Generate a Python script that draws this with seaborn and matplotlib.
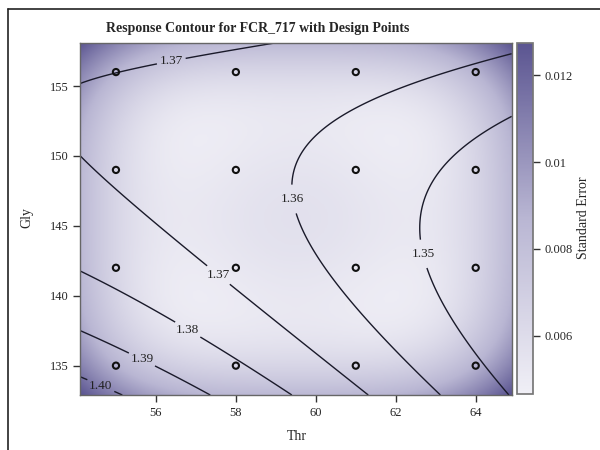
import numpy as np
import matplotlib
matplotlib.use("Agg")
import matplotlib.pyplot as plt
import seaborn as sns
import pandas as pd
from matplotlib.colors import LinearSegmentedColormap
from matplotlib.lines import Line2D

# design points (4 x 4 factorial)
thr_levels = [55, 58, 61, 64]
gly_levels = [135, 142, 149, 156]

# fitted quadratic model for FCR_717, centred at Thr=59.5, Gly=145.5
thr_center = 59.5
gly_center = 145.5
b0 = 1.360165
b_thr = -0.003007
b_gly = -0.0003937
b_thr2 = -0.0000837
b_gly2 = 0.0000905
b_thrgly = 0.0001651
root_mse = 0.0112

contour_levels = [1.35, 1.36, 1.37, 1.38, 1.39, 1.40]
label_spots = [(56.39, 156.7), (57.57, 141.5), (59.41, 146.9), (62.7, 143.0),
               (56.8, 137.6), (55.66, 135.5), (54.64, 133.7)]
se_range = [0.00466, 0.01274]
se_ticks = [0.006, 0.008, 0.01, 0.012]
se_ticklabels = ["0.006", "0.008", "0.01", "0.012"]

xlim = (54.1, 64.9)
ylim = (132.9, 158.1)

sns.set_theme(style="ticks")
plt.rcParams["font.family"] = ["Liberation Serif", "DejaVu Serif"]

design = pd.DataFrame([(t, g) for g in gly_levels for t in thr_levels], columns=["Thr", "Gly"])


def model_terms(thr, gly):
    p = np.asarray(thr, float) - thr_center
    q = np.asarray(gly, float) - gly_center
    return np.column_stack([np.ones_like(p), p, q, p * p, q * q, p * q])


coefs = np.array([b0, b_thr, b_gly, b_thr2, b_gly2, b_thrgly])
X = model_terms(design["Thr"], design["Gly"])
xtx_inv = np.linalg.inv(X.T @ X)

gx = np.linspace(xlim[0], xlim[1], 300)
gy = np.linspace(ylim[0], ylim[1], 300)
GX, GY = np.meshgrid(gx, gy)
F = model_terms(GX.ravel(), GY.ravel())
resp = (F @ coefs).reshape(GX.shape)
se = root_mse * np.sqrt(np.einsum("ij,jk,ik->i", F, xtx_inv, F)).reshape(GX.shape)

cmap = LinearSegmentedColormap.from_list("se", ["#f0eff6", "#b9b6d3", "#5b5591"])

fig = plt.figure(figsize=(6, 4.5), dpi=100)
ax = fig.add_axes([0.1333, 0.1222, 0.7195, 0.7829])
cax = fig.add_axes([0.8612, 0.1244, 0.0267, 0.7800])

im = ax.imshow(se, extent=[xlim[0], xlim[1], ylim[0], ylim[1]], origin="lower",
               aspect="auto", cmap=cmap, vmin=se_range[0], vmax=se_range[1],
               interpolation="bilinear")
cs = ax.contour(GX, GY, resp, levels=contour_levels, colors="#1a1a2a", linewidths=1.0)
labels = ax.clabel(cs, fmt="%.2f", fontsize=9.5, inline=True, inline_spacing=3,
                   manual=label_spots)
for t in labels:
    t.set_rotation(0)
    t.set_color("#222222")

sns.scatterplot(data=design, x="Thr", y="Gly", ax=ax, marker="o", s=20,
                facecolors="none", edgecolor="#111111", linewidth=1.5, zorder=5)

ax.set_xlim(*xlim)
ax.set_ylim(*ylim)
ax.set_xticks([56, 58, 60, 62, 64])
ax.set_yticks([135, 140, 145, 150, 155])
ax.set_xlabel("")
ax.set_ylabel("")
ax.tick_params(axis="both", labelsize=9, length=5, width=1, color="#333333", direction="out")
for s in ax.spines.values():
    s.set_visible(True)
    s.set_color("#666666")
    s.set_linewidth(1.0)

cb = fig.colorbar(im, cax=cax)
cb.set_ticks(se_ticks)
cb.set_ticklabels(se_ticklabels)
cb.ax.tick_params(labelsize=9, length=5, width=1, color="#333333")
cb.outline.set_edgecolor("#777777")

fig.text(0.43, 0.936, "Response Contour for FCR_717 with Design Points",
         ha="center", va="center", fontsize=10, fontweight="bold")
fig.text(0.4945, 0.029, "Thr", ha="center", va="center", fontsize=10)
fig.text(0.0445, 0.516, "Gly", ha="center", va="center", fontsize=10, rotation=90)
fig.text(0.972, 0.516, "Standard Error", ha="center", va="center", fontsize=10, rotation=90)

# screenshot frame
fig.add_artist(Line2D([8 / 600, 8 / 600], [0, 1 - 9 / 450], color="#222222", lw=1.2,
                      transform=fig.transFigure))
fig.add_artist(Line2D([8 / 600, 1], [1 - 9 / 450, 1 - 9 / 450], color="#222222", lw=1.2,
                      transform=fig.transFigure))

fig.savefig("out.png", dpi=100)
